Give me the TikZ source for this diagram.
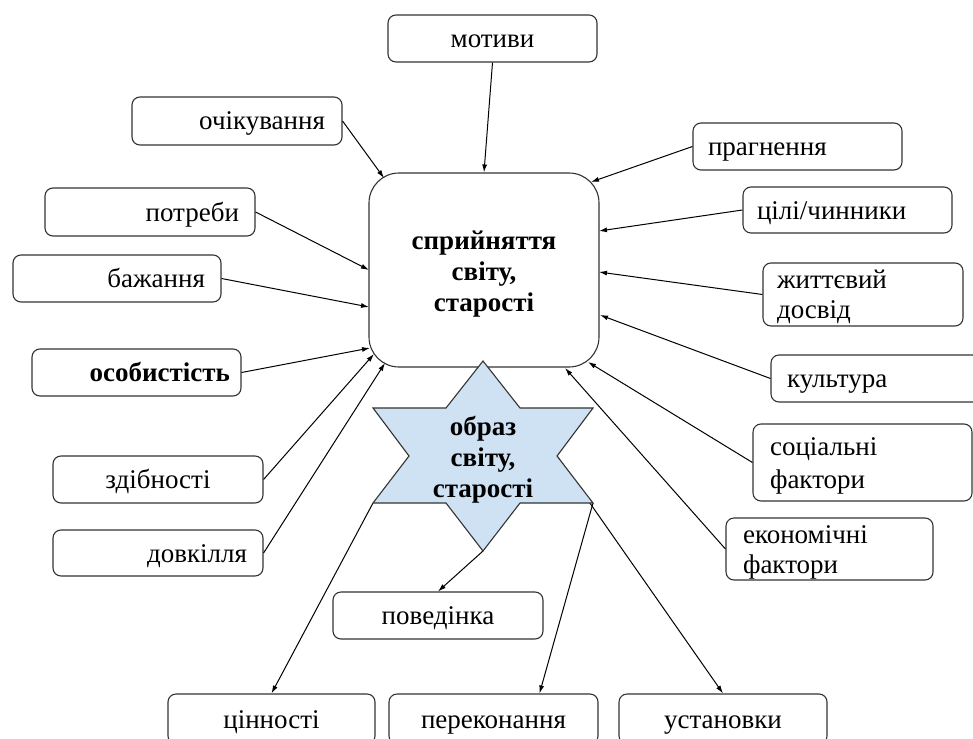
\documentclass[tikz,border=0pt]{standalone}
\usepackage{fontspec}
\setmainfont{Liberation Serif}
\usetikzlibrary{arrows.meta,calc}
\definecolor{starblue}{HTML}{CFE2F3}
\definecolor{edgegray}{HTML}{333333}
\newcommand{\boxstrut}{\rule[-6pt]{0pt}{30pt}}
\begin{document}
\begin{tikzpicture}[x=1pt,y=-1pt,
  box/.style={draw=edgegray, line width=1.1pt, rounded corners=8pt, inner sep=0pt,
    font=\fontsize{27}{30}\selectfont, execute at begin node={\boxstrut}, execute at end node={\boxstrut}},
  boldtext/.style={font=\fontsize{27}{31}\selectfont\bfseries},
  arr/.style={draw=black, line width=1pt, -{Latex[length=8pt,width=5pt]}},
]
\useasboundingbox[fill=white] (0,0) rectangle (973,738);

% main box
\node[draw=edgegray, line width=1.1pt, rounded corners=30pt, minimum width=230pt,
  minimum height=194pt] (main) at (484,270) {};
\node[align=center, boldtext] (maintext) at (484,274) {сприйняття\\світу,\\старості};

% star vertices used by connectors
\coordinate (sLL) at (373,503);
\coordinate (sLR) at (593,503);
\coordinate (sR) at (557,456);
\coordinate (sB) at (483,551);

% top / left boxes
\node[box, minimum width=209pt, minimum height=47pt, text width=189pt, align=center] (motyvy) at (492.5,38.5) {мотиви};
\node[box, minimum width=210pt, minimum height=48pt, text width=176pt, align=right] (ochik) at (237,121) {очікування};
\node[box, minimum width=210pt, minimum height=48pt, text width=178pt, align=right] (potreby) at (150,212) {потреби};
\node[box, minimum width=208pt, minimum height=47pt, text width=176pt, align=right] (bazh) at (117,278.5) {бажання};
\node[box, minimum width=209pt, minimum height=47pt, text width=187pt, align=right, boldtext] (osob) at (136.5,372.5) {особистість};
\node[box, minimum width=210pt, minimum height=47pt, text width=190pt, align=center] (zdib) at (158,479.5) {здібності};
\node[box, minimum width=210pt, minimum height=46pt, text width=178pt, align=right] (dovk) at (158,553) {довкілля};

% right boxes
\node[box, minimum width=209pt, minimum height=47pt, text width=179pt, align=left] (prahn) at (797.5,146.5) {прагнення};
\node[box, minimum width=209pt, minimum height=46pt, text width=181pt, align=left] (tsili) at (847.5,210) {цілі/чинники};
\node[box, minimum width=200pt, minimum height=63pt, text width=172pt, align=left] (zhytt) at (863,294.5) {життєвий\\досвід};
\node[box, minimum width=212pt, minimum height=47pt, text width=180pt, align=left] (kult) at (877,378.5) {культура};
\node[box, minimum width=219pt, minimum height=77pt, text width=185pt, align=left, font=\fontsize{27}{33}\selectfont] (sots) at (862.5,462.5) {соціальні\\фактори};
\node[box, minimum width=207pt, minimum height=62pt, text width=173pt, align=left] (ekon) at (829.5,549) {економічні\\фактори};

% bottom boxes
\node[box, minimum width=210pt, minimum height=47pt, text width=190pt, align=center] (poved) at (438,615.5) {поведінка};
\node[box, minimum width=207pt, minimum height=50pt, text width=187pt, align=center] (tsinn) at (271.5,719) {цінності};
\node[box, minimum width=209pt, minimum height=50pt, text width=189pt, align=center] (perek) at (493.5,719) {переконання};
\node[box, minimum width=208pt, minimum height=50pt, text width=188pt, align=center] (ustan) at (723,719) {установки};

% arrow end points on the main box
\coordinate (eOchik) at (384,178);
\coordinate (ePotreby) at (369,270);
\coordinate (eBazh) at (369,307);
\coordinate (eOsob) at (370,348);
\coordinate (eZdib) at (374,354);
\coordinate (eDovk) at (385,363);
\coordinate (ePrahn) at (591,182);
\coordinate (eTsili) at (599,231);
\coordinate (eZhytt) at (599,272);
\coordinate (eKult) at (600,315);
\coordinate (eSots) at (588,362);
\coordinate (eEkon) at (565,368);

% connectors
\draw[arr] (motyvy.south) -- (main.north);
\draw[arr] (ochik.east) -- (eOchik);
\draw[arr] (potreby.east) -- (ePotreby);
\draw[arr] (bazh.east) -- (eBazh);
\draw[arr] (osob.east) -- (eOsob);
\draw[arr] (zdib.east) -- (eZdib);
\draw[arr] (dovk.east) -- (eDovk);
\draw[arr] (prahn.west) -- (ePrahn);
\draw[arr] (tsili.west) -- (eTsili);
\draw[arr] (zhytt.west) -- (eZhytt);
\draw[arr] (kult.west) -- (eKult);
\draw[arr] (sots.west) -- (eSots);
\draw[arr] (ekon.west) -- (eEkon);
\draw[arr] (sB) -- (poved.north);
\draw[arr] (sLL) -- (tsinn.north);
\draw[arr] (sLR) -- ($(perek.north)+(46,0)$);
\draw[arr] (sR) -- (ustan.north);

% star (drawn over the connectors)
\filldraw[fill=starblue, draw=edgegray, line width=1.1pt]
  (483,361) -- (520,408) -- (593,408) -- (557,456) -- (593,503) -- (520,503)
  -- (483,551) -- (446,503) -- (373,503) -- (409,456) -- (373,408) -- (446,408) -- cycle;
\node[align=center, boldtext] (star) at (483,460) {образ\\світу,\\старості};
\end{tikzpicture}
\end{document}
